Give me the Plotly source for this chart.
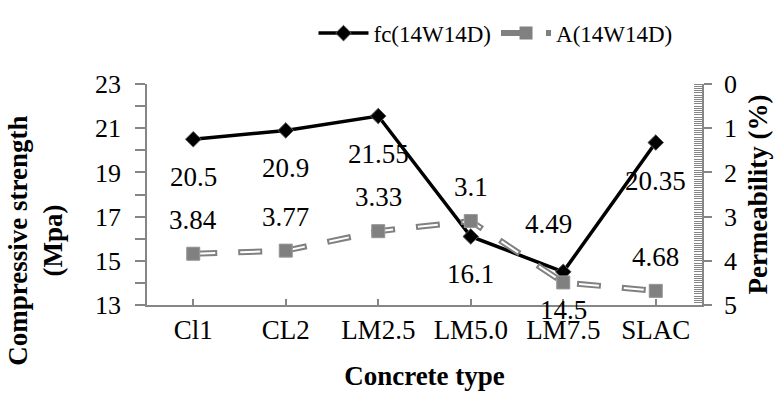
import plotly.graph_objects as go

# Concrete mixes and the two measured properties
categories = ["Cl1", "CL2", "LM2.5", "LM5.0", "LM7.5", "SLAC"]
fc_14w14d = [20.5, 20.9, 21.55, 16.1, 14.5, 20.35]      # compressive strength, MPa
a_14w14d = [3.84, 3.77, 3.33, 3.1, 4.49, 4.68]          # permeability, %

SERIF = "Liberation Serif"
AXIS_GRAY = "#868686"
SERIES_GRAY = "#808080"

fig = go.Figure()

# Compressive strength: solid black line with diamond markers
fig.add_trace(go.Scatter(
    x=categories, y=fc_14w14d, name="fc(14W14D)", mode="lines+markers",
    line=dict(color="black", width=3.5),
    marker=dict(symbol="diamond", size=12, color="black",
                line=dict(color="#5a5a5a", width=1)),
))

# Permeability: hollow dashed line = wide gray dash with a white core
fig.add_trace(go.Scatter(
    x=categories, y=a_14w14d, yaxis="y2", name="A(14W14D)", mode="lines+markers",
    line=dict(color=SERIES_GRAY, width=6, dash="24px,21px"),
    marker=dict(symbol="square", size=13, color=SERIES_GRAY),
))
fig.add_trace(go.Scatter(
    x=categories, y=a_14w14d, yaxis="y2", mode="lines", showlegend=False,
    hoverinfo="skip", line=dict(color="white", width=2, dash="0px,2px,20px,23px"),
))
fig.add_trace(go.Scatter(
    x=categories, y=a_14w14d, yaxis="y2", mode="markers", showlegend=False,
    hoverinfo="skip",
    marker=dict(symbol="square", size=13, color=SERIES_GRAY,
                line=dict(color="#9a9a9a", width=1)),
))

# Value labels: strength below its point, permeability above its point
for cat, v in zip(categories, fc_14w14d):
    fig.add_annotation(x=cat, y=v, yref="y", text=f"{v:g}", showarrow=False,
                       yshift=-38, font=dict(size=27))

label_nudge = {"LM7.5": (-15, 58)}
for cat, v in zip(categories, a_14w14d):
    dx, dy = label_nudge.get(cat, (0, 34))
    fig.add_annotation(x=cat, y=v, yref="y2", text=f"{v:g}", showarrow=False,
                       xshift=dx, yshift=dy, font=dict(size=27))

# Left axis title, set below the middle of the plot
fig.add_annotation(
    text="<b>Compressive strength<br>(Mpa)</b>", textangle=-90,
    xref="paper", yref="paper", x=-0.200, y=0.291,
    xanchor="center", yanchor="middle", showarrow=False,
    font=dict(size=27), align="center",
)

fig.update_layout(
    width=782, height=398,
    margin=dict(l=147, r=80, t=75, b=93),
    paper_bgcolor="white", plot_bgcolor="white",
    font=dict(family=SERIF, size=26, color="black"),
    legend=dict(orientation="h", x=0.30, y=1.23, xanchor="left", yanchor="middle",
                font=dict(size=23), itemwidth=50, bgcolor="rgba(0,0,0,0)"),
    xaxis=dict(
        range=[-0.5, 5.5], showline=True, linecolor=AXIS_GRAY, linewidth=1.5,
        ticks="inside", ticklen=6, tickcolor=AXIS_GRAY, tickwidth=1.5,
        tickfont=dict(size=27),
        showgrid=False, zeroline=False,
        title=dict(text="<b>Concrete type</b>", font=dict(size=27), standoff=22),
    ),
    yaxis=dict(
        range=[13, 23], tick0=13, dtick=2, showline=True, linecolor=AXIS_GRAY,
        linewidth=1.5, ticks="outside", ticklen=10, tickcolor=AXIS_GRAY, tickwidth=1.5,
        minor=dict(dtick=1, ticks="outside", ticklen=10, tickcolor=AXIS_GRAY, tickwidth=1.5),
        tickfont=dict(size=26), ticklabelstandoff=9,
        showgrid=False, zeroline=False,
    ),
    yaxis2=dict(
        overlaying="y", side="right", range=[5, 0], tick0=0, dtick=1,
        showline=True, linecolor=AXIS_GRAY, linewidth=1.5,
        ticks="outside", ticklen=8, tickcolor=AXIS_GRAY, tickwidth=1.5,
        minor=dict(dtick=0.05, ticks="inside", ticklen=8, tickcolor=AXIS_GRAY, tickwidth=1),
        tickfont=dict(size=26), ticklabelstandoff=7,
        showgrid=False, zeroline=False,
        title=dict(text="<b>Permeability (%)</b>", font=dict(size=27), standoff=12),
    ),
)

fig.write_html("out.html")
